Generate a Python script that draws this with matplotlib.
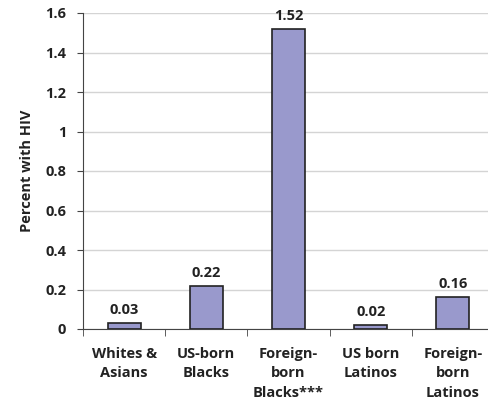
import matplotlib.pyplot as plt
import numpy as np

plt.rcParams['font.family'] = ['Open Sans', 'DejaVu Sans']

groups = ['Whites &\nAsians', 'US-born\nBlacks', 'Foreign-\nborn\nBlacks***',
          'US born\nLatinos', 'Foreign-\nborn\nLatinos']
hiv_pct = [0.03, 0.22, 1.52, 0.02, 0.16]
yticks = [0, 0.2, 0.4, 0.6, 0.8, 1, 1.2, 1.4, 1.6]

fig = plt.figure(figsize=(4.89, 4.04), dpi=100)
W, H = 489, 404
ax = fig.add_axes([83 / W, (H - 329) / H, 411 / W, 316 / H])

x = np.arange(len(groups))
ax.bar(x, hiv_pct, width=0.4, color='#9999cc', edgecolor='#222222',
       linewidth=1.2, zorder=3)
for xi, v in zip(x, hiv_pct):
    ax.text(xi, v + 0.03, f'{v:g}', ha='center', va='bottom',
            fontsize=10.5, fontweight='bold', color='#222222')

ax.set_xlim(-0.5, len(groups) - 0.5)
ax.set_ylim(0, 1.6)
ax.set_yticks(yticks)
ax.set_yticklabels([f'{t:g}' for t in yticks], fontsize=10.5,
                   fontweight='bold', color='#222222')
ax.set_xticks(x)
ax.set_xticklabels(groups, fontsize=10.5, fontweight='bold', color='#222222',
                   linespacing=1.48)
ax.set_xticks(np.arange(-0.5, len(groups), 1), minor=True)
ax.tick_params(axis='x', which='major', length=0, pad=13)
ax.tick_params(axis='x', which='minor', length=5, direction='out',
               color='#444444')
ax.tick_params(axis='y', length=4, direction='out', color='#444444', pad=8)

ax.grid(axis='y', color='#d4d4d4', linewidth=1, zorder=0)
ax.set_axisbelow(True)
for s in ['top', 'right']:
    ax.spines[s].set_visible(False)
ax.spines['left'].set_color('#444444')
ax.spines['bottom'].set_color('#444444')

ax.set_ylabel('Percent with HIV', fontsize=10.5, fontweight='bold',
              color='#222222', labelpad=8)

fig.savefig('out.png', dpi=100)
